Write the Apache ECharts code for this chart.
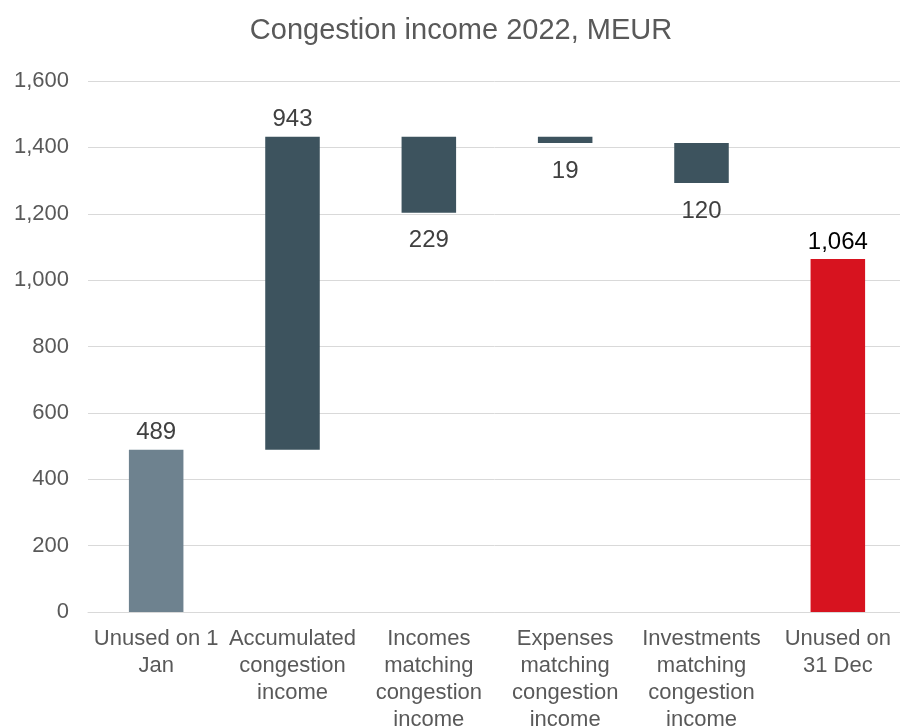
<!DOCTYPE html>
<html><head><meta charset="utf-8">
<script src="https://cdn.jsdelivr.net/npm/echarts@6/dist/echarts.min.js"></script>
<style>html,body{margin:0;padding:0;background:#fff}#c{width:900px;height:726px}</style>
</head><body><div id="c"></div>
<script>
const categories = ["Unused on 1\nJan", "Accumulated\ncongestion\nincome", "Incomes\nmatching\ncongestion\nincome", "Expenses\nmatching\ncongestion\nincome", "Investments\nmatching\ncongestion\nincome", "Unused on\n31 Dec"];
const amounts = [489, 943, 229, 19, 120, 1064];
const starts = [0, 489, 1432, 1432, 1413, 0];   // level each bar hangs from / rises from
const direction = [1, 1, -1, -1, -1, 1];        // 1 = increase, -1 = decrease
const yTicks = [0, 200, 400, 600, 800, 1000, 1200, 1400, 1600];

const colors = ["#6e828f", "#3d535e", "#3d535e", "#3d535e", "#3d535e", "#d7131f"];
const base = amounts.map((v, i) => direction[i] > 0 ? starts[i] : starts[i] - v);
const FONT = 'Liberation Sans, Arial, sans-serif';

const chart = echarts.init(document.getElementById('c'), null, {renderer: 'canvas'});
chart.setOption({
  animation: false,
  title: {
    text: "Congestion income 2022, MEUR",
    left: 456, top: 11, textAlign: 'center',
    textStyle: {fontFamily: FONT, fontSize: 29, fontWeight: 'normal', color: '#595959'}
  },
  grid: {left: 88, top: 81, width: 818, height: 531, containLabel: false, outerBoundsMode: 'none'},
  xAxis: {
    type: 'category', data: categories,
    axisLine: {lineStyle: {color: '#d9d9d9', width: 1}},
    axisTick: {show: false},
    axisLabel: {interval: 0, margin: 13, fontFamily: FONT, fontSize: 22, lineHeight: 27, color: '#595959'}
  },
  yAxis: {
    type: 'value', min: yTicks[0], max: yTicks[yTicks.length - 1], interval: 200,
    axisLine: {show: false}, axisTick: {show: false},
    splitLine: {lineStyle: {color: '#d9d9d9', width: 1}},
    axisLabel: {margin: 19, fontFamily: FONT, fontSize: 22, color: '#595959',
      formatter: v => v.toLocaleString('en-US')}
  },
  series: [
    {type: 'bar', stack: 'w', data: base, itemStyle: {color: 'transparent'}, barWidth: '40%', silent: true},
    {type: 'bar', stack: 'w', barWidth: '40%',
      data: amounts.map((v, i) => ({
        value: v,
        itemStyle: {color: colors[i]},
        label: {show: true, position: direction[i] > 0 ? 'top' : 'bottom', distance: direction[i] > 0 ? 5 : 16,
          color: i === 5 ? '#000000' : '#404040'}
      })),
      label: {show: true, fontFamily: FONT, fontSize: 24,
        formatter: p => p.value.toLocaleString('en-US')}
    }
  ]
});
</script></body></html>
